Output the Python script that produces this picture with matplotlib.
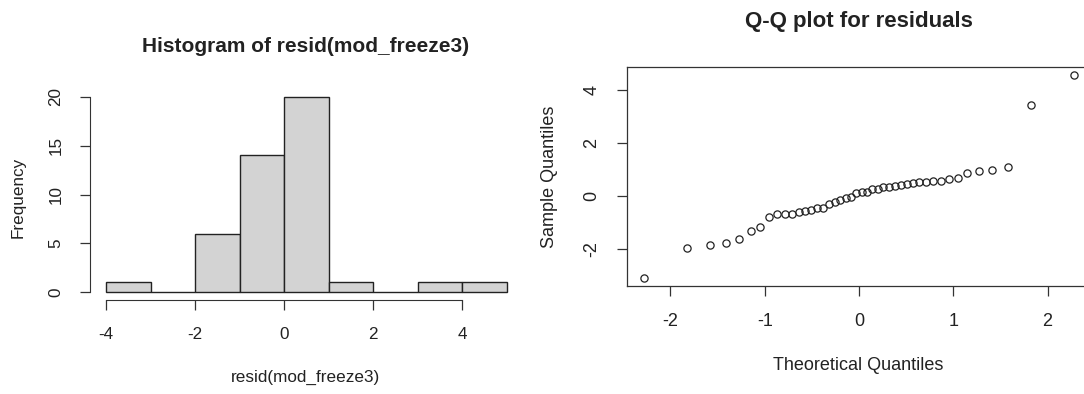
import numpy as np
import matplotlib
matplotlib.use("Agg")
from matplotlib import pyplot as plt
from statistics import NormalDist

# residuals (sorted)
resid = [-3.10, -1.95, -1.86, -1.77, -1.61, -1.33, -1.19,
         -0.80, -0.67, -0.67, -0.67, -0.62, -0.58, -0.53, -0.44, -0.44,
         -0.32, -0.22, -0.14, -0.09, -0.05,
         0.13, 0.16, 0.16, 0.25, 0.25, 0.35, 0.35, 0.39, 0.44, 0.43,
         0.48, 0.52, 0.52, 0.58, 0.58, 0.65, 0.70, 0.89, 0.94, 0.97,
         1.11, 3.43, 4.58]
bins = [-4, -3, -2, -1, 0, 1, 2, 3, 4, 5]
hist_xticks = [-4, -2, 0, 2, 4]
hist_yticks = [0, 5, 10, 15, 20]
qq_xticks = [-2, -1, 0, 1, 2]
qq_yticks = [-2, 0, 2, 4]

plt.rcParams['font.family'] = ['Liberation Sans', 'DejaVu Sans']
plt.rcParams['axes.unicode_minus'] = False
plt.rcParams['text.color'] = '#222222'

W, H = 1084, 394
fig = plt.figure(figsize=(W / 100, H / 100), dpi=100)


def ext(lo, hi):
    d = (hi - lo) * 0.04
    return lo - d, hi + d


def rstyle(ax, size):
    ax.tick_params(direction='out', length=7.2, width=0.9, labelsize=size,
                   colors='#333333', labelcolor='#222222')
    ax.tick_params(axis='x', pad=12)
    ax.tick_params(axis='y', pad=12)
    for lab in ax.get_yticklabels():
        lab.set_rotation(90)
        lab.set_va('center')


# ---- histogram ----
ax1 = fig.add_axes([90 / W, 94 / H, 433 / W, 211 / H])
ax1.hist(resid, bins=bins, color='#D3D3D3', edgecolor='#222222', linewidth=1)
ax1.set_xlim(*ext(bins[0], bins[-1]))
ax1.set_ylim(*ext(0, 20))
for s in ['top', 'right']:
    ax1.spines[s].set_visible(False)
for s in ['bottom', 'left']:
    ax1.spines[s].set_color('#333333')
ax1.spines['bottom'].set_bounds(hist_xticks[0], hist_xticks[-1])
ax1.spines['left'].set_bounds(hist_yticks[0], hist_yticks[-1])
ax1.set_xticks(hist_xticks)
ax1.set_yticks(hist_yticks)
rstyle(ax1, 12.3)
fig.text(306 / W, 1 - 47 / H, 'Histogram of resid(mod_freeze3)', ha='center',
         va='center', fontsize=15, fontweight='bold')
fig.text(306 / W, 1 - 377 / H, 'resid(mod_freeze3)', ha='center', va='center',
         fontsize=12.3)
fig.text(18 / W, 1 - 197 / H, 'Frequency', ha='center', va='center',
         fontsize=12.3, rotation=90)

# ---- Q-Q plot ----
n = len(resid)
theo = [NormalDist().inv_cdf((i - 0.5) / n) for i in range(1, n + 1)]
ax2 = fig.add_axes([627 / W, 108 / H, 464 / W, 219 / H])
ax2.plot(theo, sorted(resid), 'o', mfc='none', mec='#222222', ms=5.2, mew=0.9)
ax2.set_xlim(*ext(min(theo), max(theo)))
ax2.set_ylim(*ext(min(resid), max(resid)))
ax2.set_xticks(qq_xticks)
ax2.set_yticks(qq_yticks)
for s in ax2.spines.values():
    s.set_linewidth(0.9)
    s.set_color('#333333')
rstyle(ax2, 13)
fig.text(859 / W, 1 - 22 / H, 'Q-Q plot for residuals', ha='center',
         va='center', fontsize=16, fontweight='bold')
fig.text(858 / W, 1 - 365 / H, 'Theoretical Quantiles', ha='center',
         va='center', fontsize=13)
fig.text(550 / W, 1 - 177 / H, 'Sample Quantiles', ha='center', va='center',
         fontsize=13, rotation=90)

fig.savefig('out.png', dpi=100)
